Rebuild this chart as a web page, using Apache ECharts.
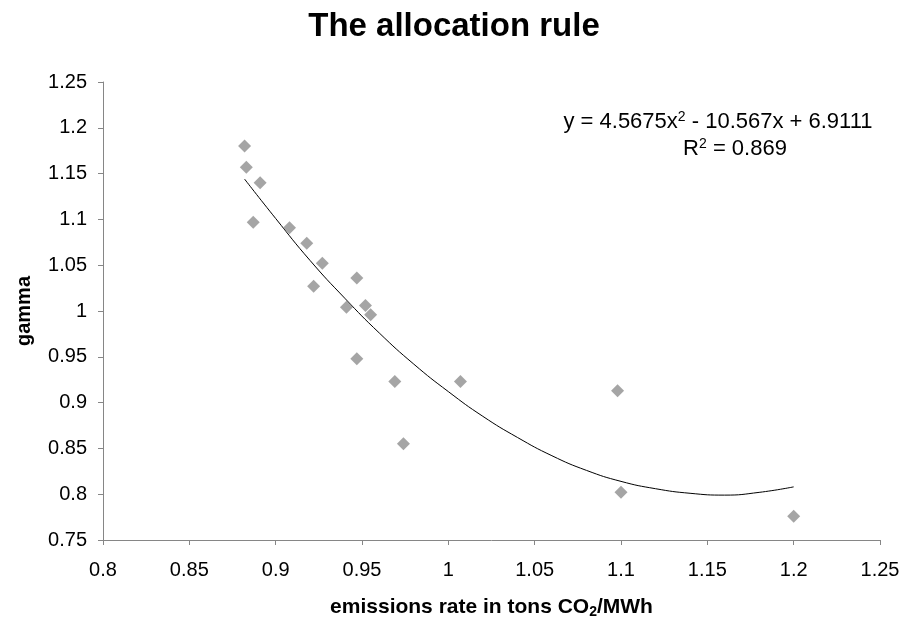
<!DOCTYPE html>
<html>
<head>
  <meta charset="utf-8">
  <style>
    html, body { margin: 0; padding: 0; width: 100%; height: 100%; background: #fff; overflow: hidden; }
    #chart { width: 908px; height: 626px; }
  </style>
</head>
<body>
  <div id="chart"></div>
  <script src="https://cdn.jsdelivr.net/npm/echarts@6/dist/echarts.min.js"></script>
  <script>
    // observed points: emissions rate (x) vs gamma (y)
    var emissionsRate = [0.882, 0.883, 0.891, 0.887, 0.908, 0.918, 0.927, 0.922, 0.947, 0.941,
                         0.952, 0.955, 0.947, 0.969, 0.974, 1.007, 1.098, 1.100, 1.200];
    var gamma = [1.180, 1.157, 1.140, 1.097, 1.091, 1.074, 1.052, 1.027, 1.036, 1.004,
                 1.006, 0.996, 0.948, 0.923, 0.855, 0.923, 0.913, 0.802, 0.776];

    // polynomial trendline
    var trendX = [0.882, 0.90, 0.92, 0.94, 0.96, 0.98, 1.00, 1.02, 1.04, 1.06,
                  1.08, 1.10, 1.12, 1.14, 1.16, 1.18, 1.20];
    var trendY = [1.144, 1.101, 1.055, 1.014, 0.976, 0.942, 0.912, 0.885, 0.862, 0.842,
                  0.826, 0.814, 0.806, 0.801, 0.799, 0.802, 0.808];

    var xTicks = { min: 0.8, max: 1.25, step: 0.05 };
    var yTicks = { min: 0.75, max: 1.25, step: 0.05 };

    var fnt = 'Liberation Sans, Arial, sans-serif';

    function tickFmt(v) { return parseFloat(v.toFixed(2)).toString(); }

    var chart = echarts.init(document.getElementById('chart'));

    chart.setOption({
      animation: false,
      title: {
        text: 'The allocation rule',
        left: 'center',
        top: 5,
        textStyle: { fontFamily: fnt, fontSize: 33, fontWeight: 'bold', color: '#000' }
      },
      grid: { left: 103, right: 28, top: 82, bottom: 86 },
      xAxis: {
        type: 'value',
        min: xTicks.min,
        max: xTicks.max,
        interval: xTicks.step,
        name: '{b|emissions rate in tons CO}{s|2}{b|/MWh}',
        nameLocation: 'middle',
        nameGap: 55,
        nameTextStyle: {
          rich: {
            b: { fontFamily: fnt, fontSize: 21, fontWeight: 'bold', color: '#000' },
            s: { fontFamily: fnt, fontSize: 14, fontWeight: 'bold', color: '#000', verticalAlign: 'bottom', padding: [10, 0, 0, 0] }
          }
        },
        splitLine: { show: false },
        axisLine: { lineStyle: { color: '#868686', width: 1 } },
        axisTick: { show: true, length: 5, lineStyle: { color: '#868686' } },
        axisLabel: { fontFamily: fnt, fontSize: 20, color: '#000', margin: 20, formatter: tickFmt }
      },
      yAxis: {
        type: 'value',
        min: yTicks.min,
        max: yTicks.max,
        interval: yTicks.step,
        name: 'gamma',
        nameLocation: 'middle',
        nameRotate: 90,
        nameGap: 69,
        nameTextStyle: { fontFamily: fnt, fontSize: 20, fontWeight: 'bold', color: '#000' },
        splitLine: { show: false },
        axisLine: { show: true, lineStyle: { color: '#868686', width: 1 } },
        axisTick: { show: true, length: 5, lineStyle: { color: '#868686' } },
        axisLabel: { fontFamily: fnt, fontSize: 20, color: '#000', margin: 16, formatter: tickFmt }
      },
      graphic: [
        {
          type: 'text',
          x: 718,
          y: 122,
          style: {
            text: '{n|y = 4.5675x}{p|2}{n| - 10.567x + 6.9111}',
            align: 'center',
            verticalAlign: 'middle',
            rich: {
              n: { fontFamily: fnt, fontSize: 22, fill: '#000' },
              p: { fontFamily: fnt, fontSize: 14, fill: '#000', verticalAlign: 'top', padding: [0, 0, 10, 0] }
            }
          }
        },
        {
          type: 'text',
          x: 735,
          y: 149,
          style: {
            text: '{n|R}{p|2}{n| = 0.869}',
            align: 'center',
            verticalAlign: 'middle',
            rich: {
              n: { fontFamily: fnt, fontSize: 22, fill: '#000' },
              p: { fontFamily: fnt, fontSize: 14, fill: '#000', verticalAlign: 'top', padding: [0, 0, 10, 0] }
            }
          }
        }
      ],
      series: [
        {
          type: 'line',
          data: trendX.map(function (x, i) { return [x, trendY[i]]; }),
          smooth: true,
          showSymbol: false,
          lineStyle: { color: '#000', width: 1 },
          z: 1
        },
        {
          type: 'scatter',
          data: emissionsRate.map(function (x, i) { return [x, gamma[i]]; }),
          symbol: 'diamond',
          symbolSize: [13, 13],
          itemStyle: { color: '#8f8f8f' },
          z: 2
        }
      ]
    });
  </script>
</body>
</html>
